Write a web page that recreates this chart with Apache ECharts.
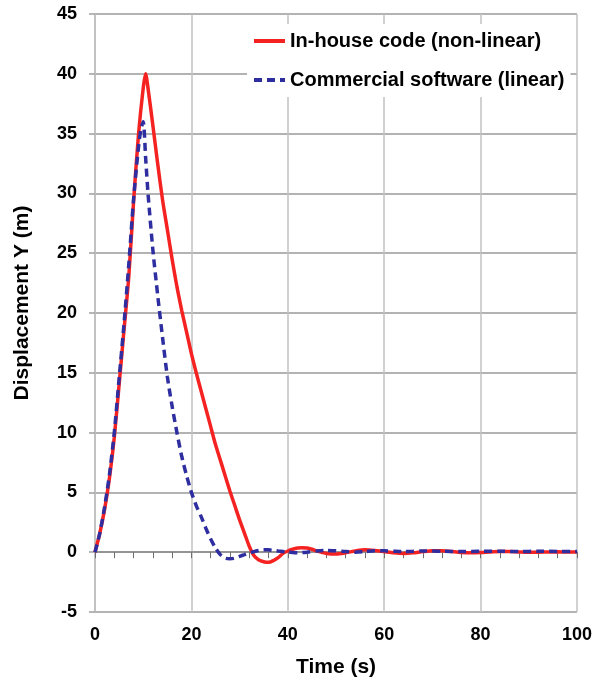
<!DOCTYPE html>
<html>
<head>
<meta charset="utf-8">
<script src="https://cdn.jsdelivr.net/npm/echarts@6/dist/echarts.min.js"></script>
<style>
  html, body { margin: 0; padding: 0; background: #fff; }
  #chart { width: 596px; height: 689px; }
</style>
</head>
<body>
<div id="chart"></div>
<script>
// Time history of vertical displacement: in-house non-linear solver vs commercial linear solver
const seriesNames = ['In-house code (non-linear)', 'Commercial software (linear)'];

const inHouseTime = [0, 1, 2, 3, 4, 5, 6, 7, 8, 9, 10, 10.5, 11, 12, 13, 14, 15, 16, 17, 18, 19, 20,
  21, 22, 23, 24, 25, 26, 27, 28, 29, 30, 31, 32, 33, 34, 35, 36, 37, 38, 39, 40, 41, 42, 43, 44,
  45, 46, 47, 48, 50, 52, 54, 56, 58, 60, 62, 64, 66, 68, 70, 72, 74, 76, 78, 80, 82, 84, 86, 88,
  90, 92, 94, 96, 98, 100];
const inHouseDisp = [0, 1.6, 3.6, 6.2, 9.6, 14, 18.5, 23, 29.3, 34.8, 38.8, 40, 38.8, 35.7, 32.5,
  29.5, 27, 24.5, 22.2, 20.2, 18.4, 16.6, 15, 13.5, 12, 10.5, 9, 7.7, 6.4, 5.1, 3.9, 2.7, 1.6, 0.5,
  -0.3, -0.65, -0.8, -0.85, -0.7, -0.45, -0.1, 0.1, 0.25, 0.35, 0.38, 0.35, 0.25, 0.1, 0, -0.1,
  -0.15, -0.05, 0.1, 0.2, 0.15, 0.05, -0.05, -0.1, -0.05, 0.05, 0.12, 0.12, 0.05, -0.02, -0.05,
  -0.03, 0.02, 0.05, 0.05, 0.02, 0, 0, 0.02, 0.03, 0.02, 0.01];

const commercialTime = [0, 1, 2, 3, 4, 5, 6, 7, 8, 9, 9.5, 10, 10.5, 11, 12, 13, 14, 15, 16, 17, 18,
  19, 20, 21, 22, 23, 24, 25, 26, 27, 28, 29, 30, 31, 32, 33, 34, 35, 36, 37, 38, 40, 42, 44, 46,
  48, 50, 52, 54, 56, 58, 60, 62, 64, 66, 68, 70, 72, 76, 80, 84, 88, 92, 96, 100];
const commercialDisp = [0, 1.6, 3.8, 6.5, 10, 14.5, 19, 24, 29.5, 33.8, 35.3, 36, 33, 30, 25.3,
  21.5, 18, 14.7, 12.2, 10, 8, 6.4, 5, 3.9, 3, 2, 1.1, 0.35, -0.2, -0.5, -0.55, -0.5, -0.35, -0.2,
  -0.05, 0.05, 0.15, 0.2, 0.2, 0.15, 0.1, 0.02, -0.05, 0, 0.1, 0.15, 0.12, 0.05, 0, 0.05, 0.12,
  0.12, 0.08, 0.05, 0.07, 0.1, 0.1, 0.08, 0.05, 0.08, 0.08, 0.05, 0.08, 0.06, 0.05];

const xTicks = { min: 0, max: 100, step: 20, minorStep: 4 };
const yTicks = { min: -5, max: 45, step: 5 };

const pairs = (xs, ys) => xs.map((x, i) => [x, ys[i]]);

const FONT = '"Liberation Sans", Arial, sans-serif';

const chart = echarts.init(document.getElementById('chart'), null, { renderer: 'canvas' });

chart.setOption({
  backgroundColor: '#ffffff',
  animation: false,
  grid: { left: 95, right: 19, top: 14, bottom: 77, containLabel: false },
  legend: {
    orient: 'vertical',
    left: 247,
    top: 24,
    padding: [7, 6, 7, 5],
    itemWidth: 31,
    itemHeight: 14,
    itemGap: 19,
    backgroundColor: '#ffffff',
    itemStyle: { opacity: 0 },
    lineStyle: { width: 4 },
    textStyle: { fontFamily: FONT, fontWeight: 'bold', fontSize: 20, color: '#000' },
    data: seriesNames
  },
  xAxis: [
    {
      type: 'value',
      min: xTicks.min,
      max: xTicks.max,
      interval: xTicks.step,
      position: 'bottom',
      axisLine: { show: false, onZero: false },
      axisTick: { show: false },
      axisLabel: { margin: 14, fontFamily: FONT, fontWeight: 'bold', fontSize: 18, color: '#000' },
      splitLine: { show: true, lineStyle: { color: '#c2c2c2', width: 1.5 } },
      name: 'Time (s)',
      nameLocation: 'middle',
      nameGap: 45,
      nameTextStyle: { fontFamily: FONT, fontWeight: 'bold', fontSize: 21, color: '#000' }
    },
    {
      // zero line with small ticks
      type: 'value',
      min: xTicks.min,
      max: xTicks.max,
      interval: xTicks.minorStep,
      position: 'bottom',
      axisLine: { show: true, onZero: true, lineStyle: { color: '#8a8a8a', width: 1.5 } },
      axisTick: { show: true, inside: false, length: 6, lineStyle: { color: '#6e6e6e', width: 1 } },
      axisLabel: { show: false },
      splitLine: { show: false }
    }
  ],
  yAxis: {
    type: 'value',
    min: yTicks.min,
    max: yTicks.max,
    interval: yTicks.step,
    axisLine: { show: true, onZero: false, lineStyle: { color: '#bdbdbd', width: 1.5 } },
    axisTick: { show: true, length: 6, lineStyle: { color: '#a0a0a0', width: 1.5 } },
    axisLabel: { margin: 18, fontFamily: FONT, fontWeight: 'bold', fontSize: 18, color: '#000' },
    splitLine: { show: true, lineStyle: { color: '#9a9a9a', width: 1.5 } },
    name: 'Displacement Y (m)',
    nameLocation: 'middle',
    nameGap: 62,
    nameTextStyle: { fontFamily: FONT, fontWeight: 'bold', fontSize: 21, color: '#000', padding: [0, 0, 0, 20] }
  },
  series: [
    {
      name: seriesNames[0],
      type: 'line',
      xAxisIndex: 0,
      data: pairs(inHouseTime, inHouseDisp),
      symbol: 'none',
      smooth: 0.25,
      lineStyle: { color: '#f52222', width: 3.5 },
      itemStyle: { color: '#f52222' },
      z: 3
    },
    {
      name: seriesNames[1],
      type: 'line',
      xAxisIndex: 0,
      data: pairs(commercialTime, commercialDisp),
      symbol: 'none',
      smooth: 0.25,
      lineStyle: { color: '#2e2ea0', width: 3.5, type: [8, 5] },
      itemStyle: { color: '#2e2ea0' },
      z: 4
    }
  ]
});
</script>
</body>
</html>
